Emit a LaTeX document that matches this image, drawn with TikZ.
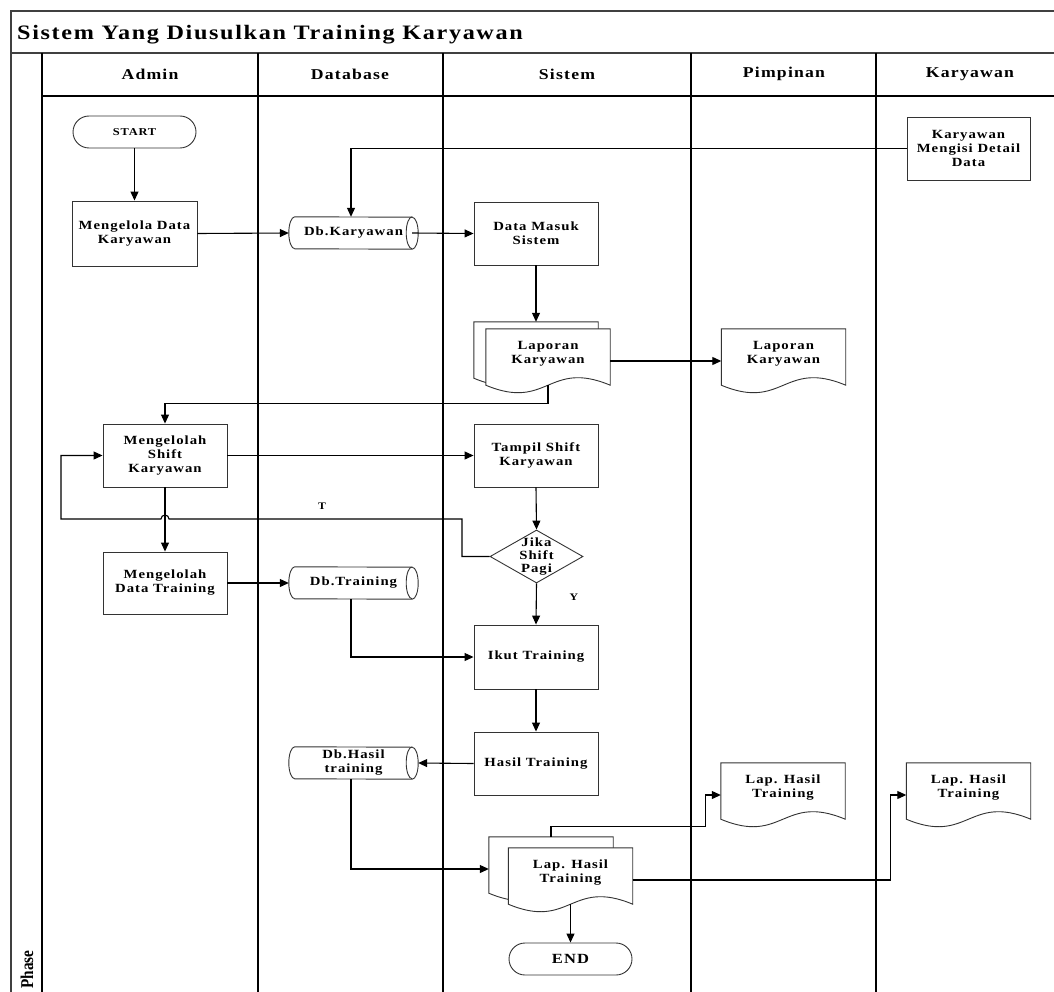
\documentclass[tikz,border=0pt]{standalone}
\usepackage{fontspec}
\setmainfont{Liberation Serif}
\newfontfamily\lsp{Liberation Serif}[LetterSpace=8.0, FakeStretch=1.18]
\newfontfamily\lst{Liberation Serif}[LetterSpace=8.0, FakeStretch=1.18]
\usetikzlibrary{arrows.meta,shapes.geometric,shapes.misc}
\newcommand\bxf{\lsp\bfseries\fontsize{12.5}{14}\selectfont}
\tikzset{
  shp/.style={draw=black!80, line width=0.9pt},
  proc/.style={shp, fill=white, rectangle, minimum width=124pt, minimum height=63pt, inner sep=1pt, align=center, font=\bxf},
  term/.style={shp, fill=white, rounded rectangle, minimum width=125pt, minimum height=32pt, inner sep=1pt},
  docbox/.style={rectangle, draw=none, minimum width=124pt, minimum height=64pt, inner sep=0pt},
  dbbox/.style={rectangle, draw=none, minimum width=129pt, minimum height=32pt, inner sep=0pt, align=center, font=\bxf},
  txtb/.style={align=center, inner sep=0pt, font=\bxf},
  dec/.style={shp, fill=white, diamond, minimum width=93pt, minimum height=53pt, inner sep=0pt},
  frame/.style={draw=black!75, line width=1.2pt},
  lane/.style={draw=black, line width=1.5pt},
  hdr/.style={font=\lsp\bfseries\fontsize{15}{17}\selectfont, inner sep=0pt},
  con/.style={draw=black, line width=1.1pt},
  arr/.style={con, -{Triangle[length=9pt,width=8pt]}},
  lbl/.style={font=\lsp\bfseries\fontsize{10}{12}\selectfont, inner sep=0pt}
}
% document shape: name, centre, text
\newcommand\docshape[3]{%
  \node[docbox] (#1) at (#2) {};
  \draw[shp, fill=white] (#1.north west) -- (#1.north east) -- ([yshift=8pt]#1.south east)
    .. controls +(-62pt,26pt) and +(62pt,-26pt) .. ([yshift=8pt]#1.south west) -- cycle;
  \node[txtb] (#1-t) at ([yshift=7pt]#1.center) {#3};
}
% database (horizontal cylinder): name, centre, text
\newcommand\dbshape[3]{%
  \node[dbbox] (#1) at (#2) {#3};
  \draw[shp] ([xshift=6pt]#1.north west) arc[start angle=90, end angle=270, x radius=6pt, y radius=16pt]
    -- ([xshift=-6pt]#1.south east) arc[start angle=-90, end angle=90, x radius=6pt, y radius=16pt] -- cycle;
  \draw[shp] ([xshift=-6pt]#1.north east) arc[start angle=90, end angle=270, x radius=6pt, y radius=16pt];
}
\begin{document}
\begin{tikzpicture}[x=1pt, y=-1pt]
\useasboundingbox[fill=white] (0,0) rectangle (1054,992);
% swimlane frame
\draw[frame] (11,992) -- (11,11) -- (1054,11);
\draw[frame] (11,53) -- (1054,53);
\draw[lane] (42,53) -- (42,992);
\draw[lane] (42,96) -- (1054,96);
\foreach \xx in {258,443,691,876} { \draw[lane] (\xx,53) -- (\xx,992); }
\node[anchor=base west, inner sep=0pt, font=\lst\bfseries\fontsize{20.5}{24}\selectfont] (title) at (17,40) {Sistem Yang Diusulkan Training Karyawan};
\node[hdr] (hadmin) at (150,74) {Admin};
\node[hdr] (hdb) at (350,74) {Database};
\node[hdr] (hsis) at (567,74) {Sistem};
\node[hdr] (hpim) at (784,74) {Pimpinan};
\node[hdr] (hkar) at (970,74) {Karyawan};
\node[rotate=90, anchor=base west, inner sep=0pt, font=\bfseries\fontsize{18}{20}\selectfont] (phase) at (33,989) {\scalebox{0.85}[1]{Phase}};

% nodes
\node[term, font=\lsp\bfseries\fontsize{10.5}{12}\selectfont] (start) at (134.5,132) {START};
\node[proc, minimum width=125pt, minimum height=65pt] (mdk) at (134.5,233.5) {Mengelola Data\\Karyawan};
\dbshape{dbk}{353.5,233}{Db.Karyawan}
\node[proc, minimum width=123pt] (kmd) at (968.5,148.5) {Karyawan\\Mengisi Detail\\Data};
\node[proc] (dms) at (536,233.5) {Data Masuk\\Sistem};
\docshape{lkb}{536,354}{}
\docshape{lkf}{548,361}{Laporan\\Karyawan}
\docshape{lkp}{783.5,361}{Laporan\\Karyawan}
\node[proc] (ms) at (165,455.5) {Mengelolah\\Shift\\Karyawan};
\node[proc] (tsk) at (536,455.5) {Tampil Shift\\Karyawan};
\node[dec] (dia) at (536.5,556.5) {};
\node[txtb, font=\lsp\bfseries\fontsize{12.5}{13}\selectfont] (diat) at (536.5,557) {Jika\\Shift\\Pagi};
\node[proc, minimum height=62pt] (mdt) at (165,583) {Mengelolah\\Data Training};
\dbshape{dbt}{353.5,583}{Db.Training}
\node[proc, minimum height=64pt] (ikut) at (536,657) {Ikut Training};
\node[proc] (hasil) at (536,763.5) {Hasil Training};
\dbshape{dbh}{353.5,763}{Db.Hasil\\training}
\docshape{lhb}{551,869}{}
\docshape{lhf}{570.5,880}{Lap. Hasil\\Training}
\docshape{lhp}{783,795}{Lap. Hasil\\Training}
\docshape{lhk}{968.5,795}{Lap. Hasil\\Training}
\node[term, font=\lsp\bfseries\fontsize{14}{16}\selectfont] (end) at (570.5,959) {END};

% connectors
\draw[arr] (start.south) -- (mdk.north);
\draw[arr] (mdk.east) -- (dbk.west);
\draw[arr] (kmd.west) -| ([xshift=-2.5pt]dbk.north);
\draw[arr] ([xshift=-6pt]dbk.east) -- (dms.west);
\draw[arr] (dms.south) -- (lkb.north);
\draw[arr] (lkf.east) -- (lkp.west);
\draw[arr] ([yshift=8pt]lkf.south) -- ++(0,18) -| (ms.north);
\draw[arr] (ms.east) -- (tsk.west);
\draw[arr] (tsk.south) -- (dia.north);
\coordinate (tr) at (462,519);
\coordinate (tlft) at (61,519);
\coordinate (hopc) at (ms.south |- tr);
\draw[arr] (dia.west) -| (tr) -- ([xshift=4pt]hopc) arc[start angle=0, end angle=180, radius=4pt] -- (tlft) |- (ms.west);
\node[lbl] (tl) at (322,506) {T};
\draw[arr] (ms.south) -- (mdt.north);
\draw[arr] (dia.south) -- (ikut.north);
\node[lbl] (yl) at (574,597) {Y};
\draw[arr] (mdt.east) -- (dbt.west);
\draw[arr] ([xshift=-2.5pt]dbt.south) |- (ikut.west);
\draw[arr] (ikut.south) -- (hasil.north);
\draw[arr] (hasil.west) -- (dbh.east);
\draw[arr] ([xshift=-2.5pt]dbh.south) |- (lhb.west);
\draw[arr] (lhb.north) -- ++(0,-10) -| ([xshift=-15pt]lhp.west) -- (lhp.west);
\draw[arr] (lhf.east) -| ([xshift=-16pt]lhk.west) -- (lhk.west);
\draw[arr] ([yshift=8pt]lhf.south) -- (end.north);
\end{tikzpicture}
\end{document}
